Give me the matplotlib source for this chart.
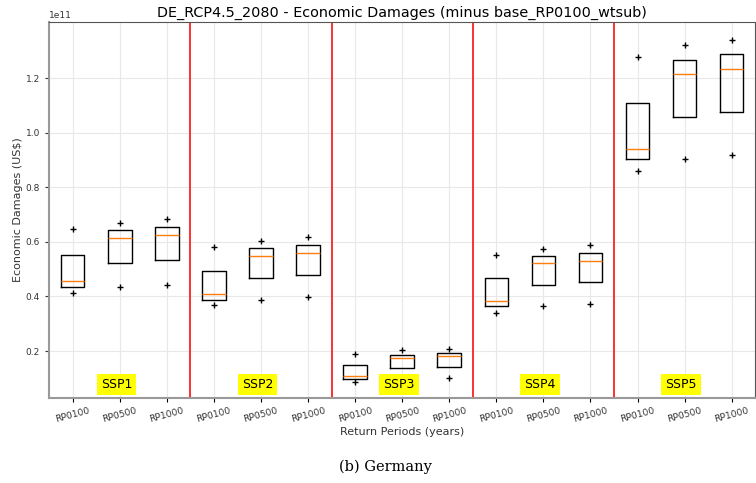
import matplotlib
matplotlib.use('Agg')
import matplotlib.pyplot as plt
import numpy as np

"""Boxes of economic damages per SSP and return period (values in 1e11 US$)"""

ssps = ['SSP1', 'SSP2', 'SSP3', 'SSP4', 'SSP5']
return_periods = ['RP0100', 'RP0500', 'RP1000']

# one entry per box, ordered SSP1 RP0100 ... SSP5 RP1000
q1 = [0.433, 0.522, 0.533, 0.387, 0.466, 0.477, 0.096, 0.137, 0.141,
      0.364, 0.443, 0.453, 0.902, 1.056, 1.075]
med = [0.457, 0.613, 0.626, 0.408, 0.548, 0.560, 0.107, 0.174, 0.182,
       0.384, 0.521, 0.531, 0.940, 1.214, 1.233]
q3 = [0.552, 0.642, 0.655, 0.492, 0.578, 0.587, 0.149, 0.187, 0.192,
      0.469, 0.548, 0.558, 1.108, 1.265, 1.287]
flier_low = [0.414, 0.433, 0.443, 0.367, 0.388, 0.398, 0.086, 0.080, 0.102,
             0.340, 0.364, 0.372, 0.860, 0.902, 0.917]
flier_high = [0.646, 0.671, 0.684, 0.580, 0.605, 0.617, 0.190, 0.203, 0.207,
              0.553, 0.575, 0.588, 1.276, 1.320, 1.339]

scale = 1e11
stats = []
for i in range(len(med)):
    stats.append({'q1': q1[i] * scale, 'med': med[i] * scale, 'q3': q3[i] * scale,
                  'whislo': q1[i] * scale, 'whishi': q3[i] * scale,
                  'fliers': [flier_low[i] * scale, flier_high[i] * scale]})

fig = plt.figure(figsize=(7.56, 4.83), dpi=100)
ax = fig.add_axes([0.065, 0.176, 0.934, 0.778])

positions = np.arange(1, len(med) + 1)
ax.bxp(stats, positions=positions, widths=0.5, showcaps=False,
       boxprops={'color': 'black', 'linewidth': 1},
       whiskerprops={'linewidth': 0},
       medianprops={'color': '#ff7f0e', 'linewidth': 1},
       flierprops={'marker': '+', 'markeredgecolor': 'black', 'markersize': 5})

ax.set_xlim(0.5, len(med) + 0.5)
ax.set_ylim(0.028 * scale, 1.405 * scale)
ax.set_xticks(positions)
ax.set_xticklabels(return_periods * len(ssps), rotation=15, fontsize=6.6, color='#333333')
ax.set_yticks(np.array([0.2, 0.4, 0.6, 0.8, 1.0, 1.2]) * scale)
ax.tick_params(axis='y', labelsize=6.5, colors='#333333', length=3)
ax.tick_params(axis='x', length=3, pad=3)
ax.yaxis.get_offset_text().set_fontsize(6.5)
ax.yaxis.get_offset_text().set_color('#333333')
ax.grid(color='#e8e8e8', linewidth=0.8)
ax.set_axisbelow(True)
for side in ['left', 'bottom']:
    ax.spines[side].set_color('#999999')
    ax.spines[side].set_linewidth(1.5)
ax.spines['top'].set_color('#555555')
ax.spines['right'].set_color('#555555')

# separators and SSP labels
for g in range(len(ssps)):
    if g > 0:
        ax.axvline(3 * g + 0.5, color='#ff2020', linewidth=1.3)
    ax.text(3 * g + 1.93, 0.078 * scale, ssps[g], ha='center', va='center', fontsize=9,
            bbox=dict(facecolor='yellow', edgecolor='none', pad=3))

ax.set_title('DE_RCP4.5_2080 - Economic Damages (minus base_RP0100_wtsub)', fontsize=10.4, pad=4)
ax.set_xlabel('Return Periods (years)', fontsize=8, color='#333333', labelpad=2)
ax.set_ylabel('Economic Damages (US$)', fontsize=8, color='#333333', labelpad=2)

fig.text(0.51, 0.033, '(b) Germany', ha='center', va='center', fontsize=10.5,
         family='DejaVu Serif')

fig.savefig('out.png', dpi=100)
